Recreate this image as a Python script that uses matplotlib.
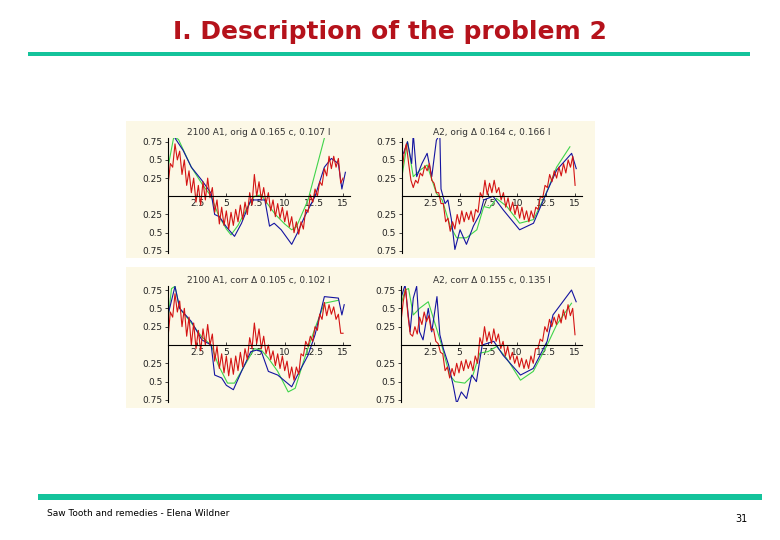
import numpy as np
import matplotlib
matplotlib.use("Agg")
import matplotlib.pyplot as plt
from matplotlib.patches import Rectangle

# ---------------- data ----------------
titles = ["2100 A1, orig Δ 0.165 c, 0.107 l",
          "A2, orig Δ 0.164 c, 0.166 l",
          "2100 A1, corr Δ 0.105 c, 0.102 l",
          "A2, corr Δ 0.155 c, 0.135 l"]

ytick_vals = [-0.75, -0.5, -0.25, 0.25, 0.5, 0.75]
ytick_labels = ["0.75", "0.5", "0.25", "0.25", "0.5", "0.75"]
xtick_vals = [2.5, 5, 7.5, 10, 12.5, 15]
xtick_labels = ["2.5", "5", "7.5", "10", "12.5", "15"]

# panel 1
green1_x = [0.0, 0.5, 0.9, 2.0, 3.0, 3.7, 4.3, 5.0, 5.4, 6.0, 6.8, 7.4, 8.0, 8.6, 9.2, 10.0, 10.6, 11.0, 12.0, 13.4, 13.6]
green1_y = [0.40, 0.82, 0.78, 0.40, 0.15, 0.0, -0.25, -0.45, -0.53, -0.40, -0.15, 0.0, 0.02, -0.12, -0.25, -0.38, -0.46, -0.42, -0.05, 0.80, 0.90]
blue1_x = [0.5, 0.6, 1.3, 2.0, 2.9, 3.7, 4.0, 4.4, 5.0, 5.7, 6.3, 7.1, 7.7, 8.3, 8.7, 9.1, 9.7, 10.6, 11.1, 11.7, 12.6, 13.4, 14.0, 14.6, 14.9, 15.2]
blue1_y = [0.90, 0.80, 0.63, 0.40, 0.22, 0.04, -0.25, -0.28, -0.42, -0.55, -0.37, -0.05, -0.05, -0.05, -0.41, -0.37, -0.46, -0.66, -0.50, -0.28, 0.0, 0.40, 0.52, 0.45, 0.10, 0.33]
red1_y = [0.15, 0.45, 0.40, 0.72, 0.50, 0.62, 0.30, 0.50, 0.15, 0.35, 0.05, 0.25, -0.08, 0.15,
          -0.12, 0.20, -0.05, 0.25, -0.02, 0.12, -0.22, -0.05, -0.38, -0.15, -0.40, -0.20, -0.45,
          -0.22, -0.40, -0.18, -0.35, -0.12, -0.32, -0.08, -0.25, 0.05, -0.12, 0.30, 0.0, 0.20,
          -0.05, 0.12, -0.10, 0.05, -0.20, -0.05, -0.28, -0.10, -0.30, -0.15, -0.35, -0.20, -0.42,
          -0.28, -0.50, -0.35, -0.52, -0.35, -0.45, -0.18, -0.22, 0.02, -0.08, 0.10, 0.0, 0.20,
          0.15, 0.38, 0.28, 0.55, 0.38, 0.55, 0.40, 0.52, 0.18, 0.25]

# panel 2
green2_x = [0.0, 0.5, 1.0, 1.6, 2.2, 3.0, 3.5, 4.2, 4.75, 5.6, 6.5, 7.1, 7.6, 8.2, 9.1, 10.2, 11.4, 12.5, 13.4, 14.55]
green2_y = [0.25, 0.75, 0.27, 0.36, 0.43, 0.04, -0.05, -0.41, -0.57, -0.57, -0.46, -0.14, -0.16, -0.03, -0.14, -0.37, -0.32, 0.04, 0.40, 0.68]
blue2_x = [0.15, 0.5, 0.86, 1.0, 1.3, 1.75, 2.2, 2.6, 3.0, 3.3, 3.4, 3.75, 4.0, 4.3, 4.6, 5.05, 5.6, 6.2, 6.8, 7.1, 7.9, 8.8, 10.2, 11.4, 12.5, 13.4, 14.7, 15.1]
blue2_y = [0.59, 0.75, 0.45, 0.86, 0.27, 0.45, 0.59, 0.27, 0.77, 0.85, 0.10, -0.10, -0.05, -0.32, -0.73, -0.46, -0.66, -0.41, -0.23, -0.05, 0.0, -0.19, -0.46, -0.37, 0.04, 0.36, 0.59, 0.38]
red2_y = [0.30, 0.58, 0.72, 0.45, 0.22, 0.12, 0.22, 0.18, 0.32, 0.28, 0.42, 0.35, 0.45, 0.22, 0.18,
          0.05, 0.05, -0.10, -0.10, -0.35, -0.30, -0.48, -0.35, -0.45, -0.25, -0.38, -0.20, -0.35,
          -0.22, -0.32, -0.20, -0.35, -0.18, -0.22, 0.05, -0.02, 0.22, 0.02, 0.18, 0.05, 0.22, 0.05,
          0.12, -0.05, 0.05, -0.15, -0.02, -0.20, -0.08, -0.25, -0.12, -0.30, -0.15, -0.32, -0.20,
          -0.35, -0.20, -0.30, -0.15, -0.18, 0.0, -0.02, 0.15, 0.12, 0.30, 0.20, 0.35, 0.25, 0.40,
          0.28, 0.45, 0.32, 0.50, 0.40, 0.55, 0.15]

# panel 3
green3_x = [0.0, 0.3, 0.6, 1.0, 2.0, 2.9, 3.7, 4.3, 5.1, 5.7, 6.6, 7.4, 8.0, 8.6, 9.4, 10.3, 10.9, 11.7, 12.6, 13.4, 14.6]
green3_y = [0.34, 0.77, 0.80, 0.50, 0.30, 0.11, 0.0, -0.27, -0.52, -0.52, -0.27, -0.05, -0.07, -0.18, -0.36, -0.64, -0.59, -0.18, 0.23, 0.57, 0.61]
blue3_x = [0.0, 0.6, 1.0, 2.0, 2.9, 3.7, 4.0, 4.6, 5.0, 5.6, 6.3, 7.1, 7.6, 8.0, 8.6, 9.4, 10.6, 11.1, 12.0, 12.6, 13.4, 14.6, 14.9, 15.1]
blue3_y = [0.41, 0.80, 0.50, 0.32, 0.07, 0.0, -0.41, -0.45, -0.55, -0.61, -0.36, -0.09, -0.07, -0.09, -0.36, -0.41, -0.57, -0.41, -0.14, 0.14, 0.66, 0.64, 0.41, 0.55]
red3_y = [0.10, 0.45, 0.38, 0.70, 0.45, 0.60, 0.25, 0.50, 0.12, 0.38, 0.0, 0.30, -0.05, 0.20,
          -0.08, 0.22, 0.0, 0.28, 0.0, 0.15, -0.22, -0.02, -0.32, -0.12, -0.38, -0.15, -0.42,
          -0.18, -0.40, -0.15, -0.35, -0.10, -0.30, -0.05, -0.20, 0.10, -0.05, 0.30, 0.02, 0.22,
          -0.05, 0.12, -0.12, 0.0, -0.20, -0.08, -0.28, -0.12, -0.32, -0.15, -0.35, -0.22, -0.45,
          -0.30, -0.48, -0.30, -0.40, -0.12, -0.15, 0.05, -0.02, 0.12, 0.05, 0.25, 0.20, 0.42,
          0.35, 0.58, 0.40, 0.55, 0.42, 0.52, 0.35, 0.42, 0.16, 0.16]

# panel 4
green4_x = [0.0, 0.35, 0.65, 1.06, 1.6, 2.35, 2.8, 3.5, 4.2, 4.65, 5.5, 6.2, 6.8, 7.5, 8.25, 9.1, 10.3, 11.4, 12.6, 13.4, 14.7]
green4_y = [0.55, 0.75, 0.77, 0.41, 0.50, 0.59, 0.36, 0.0, -0.41, -0.50, -0.52, -0.41, -0.11, -0.09, -0.02, -0.18, -0.48, -0.36, 0.0, 0.27, 0.57]
blue4_x = [0.0, 0.35, 0.78, 1.06, 1.35, 1.6, 1.9, 2.35, 2.65, 3.1, 3.35, 3.65, 4.1, 4.5, 4.8, 5.2, 5.65, 6.1, 6.5, 7.0, 8.0, 8.8, 10.3, 11.4, 12.6, 13.1, 14.7, 15.1]
blue4_y = [0.64, 0.82, 0.18, 0.64, 0.80, 0.18, 0.07, 0.50, 0.18, 0.66, 0.14, -0.05, -0.27, -0.55, -0.80, -0.64, -0.73, -0.41, -0.50, 0.0, 0.05, -0.14, -0.41, -0.32, 0.05, 0.41, 0.75, 0.59]
red4_y = [0.32, 0.60, 0.77, 0.40, 0.15, 0.12, 0.25, 0.15, 0.38, 0.28, 0.45, 0.32, 0.40, 0.20, 0.22,
          0.05, 0.02, -0.10, -0.12, -0.35, -0.30, -0.45, -0.32, -0.42, -0.25, -0.38, -0.22, -0.35,
          -0.20, -0.32, -0.22, -0.35, -0.15, -0.25, 0.10, 0.0, 0.25, 0.05, 0.18, 0.02, 0.22, 0.05,
          0.15, -0.05, 0.05, -0.15, -0.02, -0.20, -0.10, -0.25, -0.15, -0.30, -0.18, -0.32, -0.20,
          -0.32, -0.15, -0.25, -0.05, -0.05, 0.08, 0.05, 0.25, 0.18, 0.35, 0.25, 0.38, 0.28, 0.42,
          0.30, 0.48, 0.35, 0.55, 0.40, 0.50, 0.14]

panels = [
    (green1_x, green1_y, blue1_x, blue1_y, red1_y),
    (green2_x, green2_y, blue2_x, blue2_y, red2_y),
    (green3_x, green3_y, blue3_x, blue3_y, red3_y),
    (green4_x, green4_y, blue4_x, blue4_y, red4_y),
]

# ---------------- layout ----------------
W, H = 780, 540
fig = plt.figure(figsize=(7.8, 5.4), dpi=100)
fig.patch.set_facecolor("white")

def fx(px):
    return px / W

def fy(py):
    return 1 - py / H

cream = "#fcf8e6"
# panel backgrounds (two rows), drawn beneath the axes
fig.patches.append(Rectangle((fx(126), fy(258)), fx(595) - fx(126), fy(121) - fy(258),
                             transform=fig.transFigure, facecolor=cream, edgecolor="none", zorder=-5))
fig.patches.append(Rectangle((fx(126), fy(408)), fx(595) - fx(126), fy(267) - fy(408),
                             transform=fig.transFigure, facecolor=cream, edgecolor="none", zorder=-5))

teal = "#14c39b"
fig.patches.append(Rectangle((fx(28), fy(56)), fx(750) - fx(28), fy(52) - fy(56),
                             transform=fig.transFigure, facecolor=teal, edgecolor="none", zorder=-5))
fig.patches.append(Rectangle((fx(38), fy(500)), fx(762) - fx(38), fy(494) - fy(500),
                             transform=fig.transFigure, facecolor=teal, edgecolor="none", zorder=-5))

fig.text(0.5, fy(32), "I. Description of the problem 2", ha="center", va="center",
         fontsize=18, fontweight="bold", color="#b5121b", family="DejaVu Sans")
fig.text(fx(47), fy(514), "Saw Tooth and remedies - Elena Wildner", ha="left", va="center",
         fontsize=6.5, color="black")
fig.text(fx(741), fy(519), "31", ha="center", va="center", fontsize=7, color="black")

# (x0 pixel, px per unit x, zero pixel y, px per unit y)
geo = [(168, 11.67, 196.3, 72.8),
       (401.7, 11.56, 196.3, 72.8),
       (168, 11.67, 345.0, 73.3),
       (401.0, 11.6, 345.0, 73.3)]

xmin, xmax = 0.0, 15.6
ymin, ymax = -0.78, 0.80

for i, ((gx, gy, bx, by, ry), (x0, sx, y0, sy)) in enumerate(zip(panels, geo)):
    left = x0 + xmin * sx
    right = x0 + xmax * sx
    top = y0 - ymax * sy
    bottom = y0 - ymin * sy
    ax = fig.add_axes([fx(left), fy(bottom), fx(right) - fx(left), fy(top) - fy(bottom)])
    ax.set_facecolor("none")
    ax.patch.set_visible(False)
    ax.set_xlim(xmin, xmax)
    ax.set_ylim(ymin, ymax)
    rx = np.linspace(0, 15, len(ry))
    ax.plot(gx, gy, color="#3fd44a", lw=0.8, zorder=2)
    ax.plot(bx, by, color="#1414a0", lw=0.8, zorder=3)
    ax.plot(rx, ry, color="#d41414", lw=0.8, zorder=4)
    for s in ["top", "right"]:
        ax.spines[s].set_visible(False)
    ax.spines["left"].set_position(("data", 0))
    ax.spines["bottom"].set_position(("data", 0))
    for s in ["left", "bottom"]:
        ax.spines[s].set_linewidth(0.8)
        ax.spines[s].set_zorder(5)
    ax.set_yticks(ytick_vals)
    ax.set_yticklabels(ytick_labels)
    ax.set_xticks(xtick_vals)
    ax.set_xticklabels(xtick_labels)
    ax.tick_params(axis="both", labelsize=6.5, length=2, width=0.6, pad=2, colors="#222222",
                   direction="in")
    ax.tick_params(axis="y", direction="out")
    ax.text(0.5 * (xmin + xmax), ymax + 0.02, titles[i], ha="center", va="bottom",
            fontsize=6.5, color="#333333")

fig.savefig("out.png", dpi=100, facecolor="white")
